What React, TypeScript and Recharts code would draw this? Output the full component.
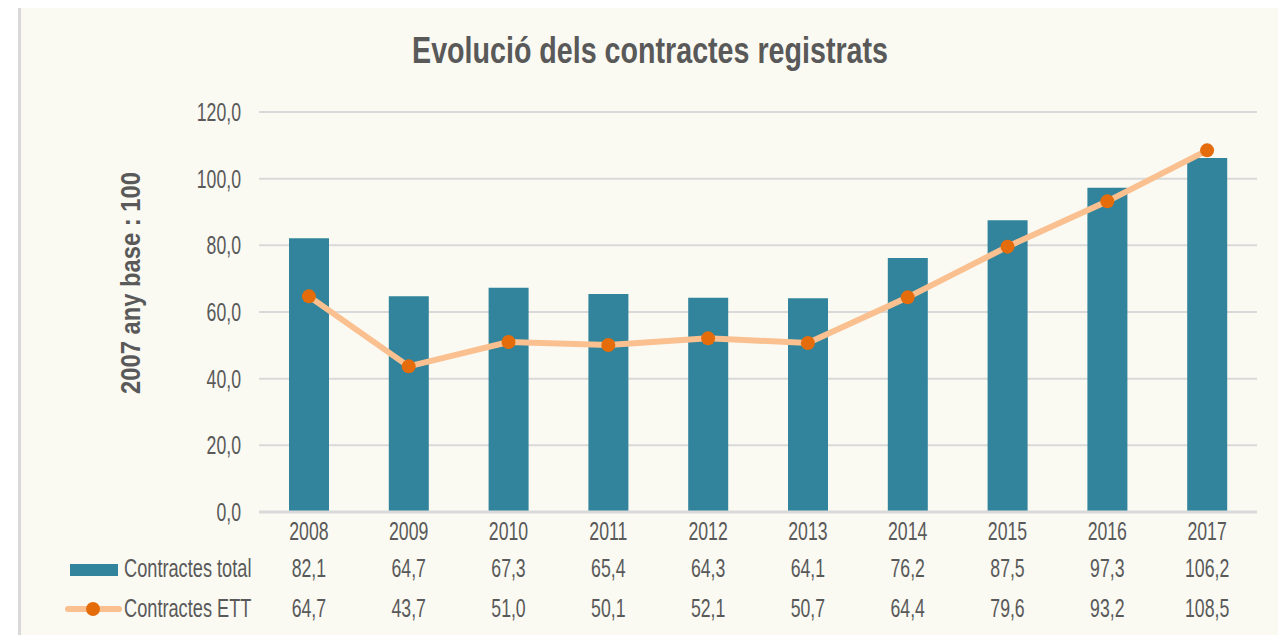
import React from "react";
import { ComposedChart, Bar, Line, XAxis, YAxis, CartesianGrid } from "recharts";

const years = ["2008", "2009", "2010", "2011", "2012", "2013", "2014", "2015", "2016", "2017"];
const totalContracts = [82.1, 64.7, 67.3, 65.4, 64.3, 64.1, 76.2, 87.5, 97.3, 106.2];
const ettContracts = [64.7, 43.7, 51.0, 50.1, 52.1, 50.7, 64.4, 79.6, 93.2, 108.5];
const yTicks = [0, 20, 40, 60, 80, 100, 120];

const FONT = "'Liberation Sans', Arial, sans-serif";
const GREY = "#595959";
const TEAL = "#31849b";
const PEACH = "#fac090";
const ORANGE = "#e46c0a";

const fmt = (v: number) => v.toFixed(1).replace(".", ",");

const data = years.map((year, i) => ({
  year,
  total: totalContracts[i],
  ett: ettContracts[i],
}));

// narrow text: the source uses a condensed face, so squeeze Liberation Sans horizontally
function Narrow({ x, y, text, size = 26, sx = 0.68, anchor = "middle", bold = false, rotate = 0 }: any) {
  return (
    <text
      transform={`translate(${x},${y}) rotate(${rotate}) scale(${sx},1)`}
      textAnchor={anchor}
      fontFamily={FONT}
      fontSize={size}
      fontWeight={bold ? 700 : 400}
      fill={GREY}
    >
      {text}
    </text>
  );
}

function YearTick(p: any) {
  return <Narrow x={p.x} y={p.y + 20} text={p.payload.value} />;
}

function rowTick(values: number[]) {
  return (p: any) => {
    const i = p.index ?? p.payload.index;
    return <Narrow x={p.x} y={p.y + 21} text={fmt(values[i])} />;
  };
}

function YTick(p: any) {
  return <Narrow x={241} y={p.y + 9} text={fmt(p.payload.value)} anchor="end" />;
}

function TotalRowLabel(p: any) {
  const vb = p.viewBox;
  return (
    <g>
      <rect x={vb.x - 189} y={vb.y + 16} width={48} height={12} fill={TEAL} />
      <Narrow x={vb.x - 135} y={vb.y + 29} text="Contractes total" anchor="start" sx={0.7} />
    </g>
  );
}

function EttRowLabel(p: any) {
  const vb = p.viewBox;
  return (
    <g>
      <line x1={vb.x - 191} x2={vb.x - 140} y1={vb.y + 21} y2={vb.y + 21} stroke={PEACH} strokeWidth={6} strokeLinecap="round" />
      <circle cx={vb.x - 166} cy={vb.y + 21} r={7} fill={ORANGE} />
      <Narrow x={vb.x - 135} y={vb.y + 29} text="Contractes ETT" anchor="start" sx={0.7} />
    </g>
  );
}

function YLabel(p: any) {
  const vb = p.viewBox;
  return <Narrow x={140} y={vb.y + 171} text="2007 any base  :  100" size={27} sx={0.88} bold rotate={-90} />;
}

export default function App() {
  return (
    <div style={{ position: "relative", width: 1286, height: 643, margin: -8, overflow: "hidden", background: "#fff" }}>
      <div
        style={{
          position: "absolute",
          left: 18,
          top: 4,
          width: 1262,
          height: 650,
          background: "#fafaf3",
          borderTop: "3px solid #d9d9d9",
          borderLeft: "3px solid #d9d9d9",
          borderRight: "3px solid #d9d9d9",
        }}
      />
      <svg width={1286} height={90} style={{ position: "absolute", left: 0, top: 0 }}>
        <Narrow x={650} y={63} text="Evolució dels contractes registrats" size={37.7} sx={0.76} bold />
      </svg>
      <div style={{ position: "absolute", left: 0, top: 0 }}>
        <ComposedChart width={1286} height={643} data={data} margin={{ top: 112, right: 29, left: 0, bottom: 15 }}>
          <CartesianGrid horizontal vertical={false} stroke="#d9d9d9" strokeWidth={2} />
          <YAxis
            width={259}
            domain={[0, 120]}
            ticks={yTicks}
            axisLine={false}
            tickLine={false}
            tick={<YTick />}
            label={YLabel}
          />
          <XAxis
            dataKey="year"
            height={36}
            axisLine={{ stroke: "#d9d9d9", strokeWidth: 3 }}
            tickLine={false}
            tick={<YearTick />}
          />
          <XAxis
            xAxisId="row1"
            dataKey="year"
            height={40}
            axisLine={false}
            tickLine={false}
            tick={rowTick(totalContracts)}
            label={TotalRowLabel}
          />
          <XAxis
            xAxisId="row2"
            dataKey="year"
            height={40}
            axisLine={false}
            tickLine={false}
            tick={rowTick(ettContracts)}
            label={EttRowLabel}
          />
          <Bar dataKey="total" fill={TEAL} barSize={40} isAnimationActive={false} />
          <Line
            dataKey="ett"
            stroke={PEACH}
            strokeWidth={6}
            dot={{ r: 7, fill: ORANGE, stroke: "none" }}
            activeDot={false}
            isAnimationActive={false}
          />
        </ComposedChart>
      </div>
    </div>
  );
}
